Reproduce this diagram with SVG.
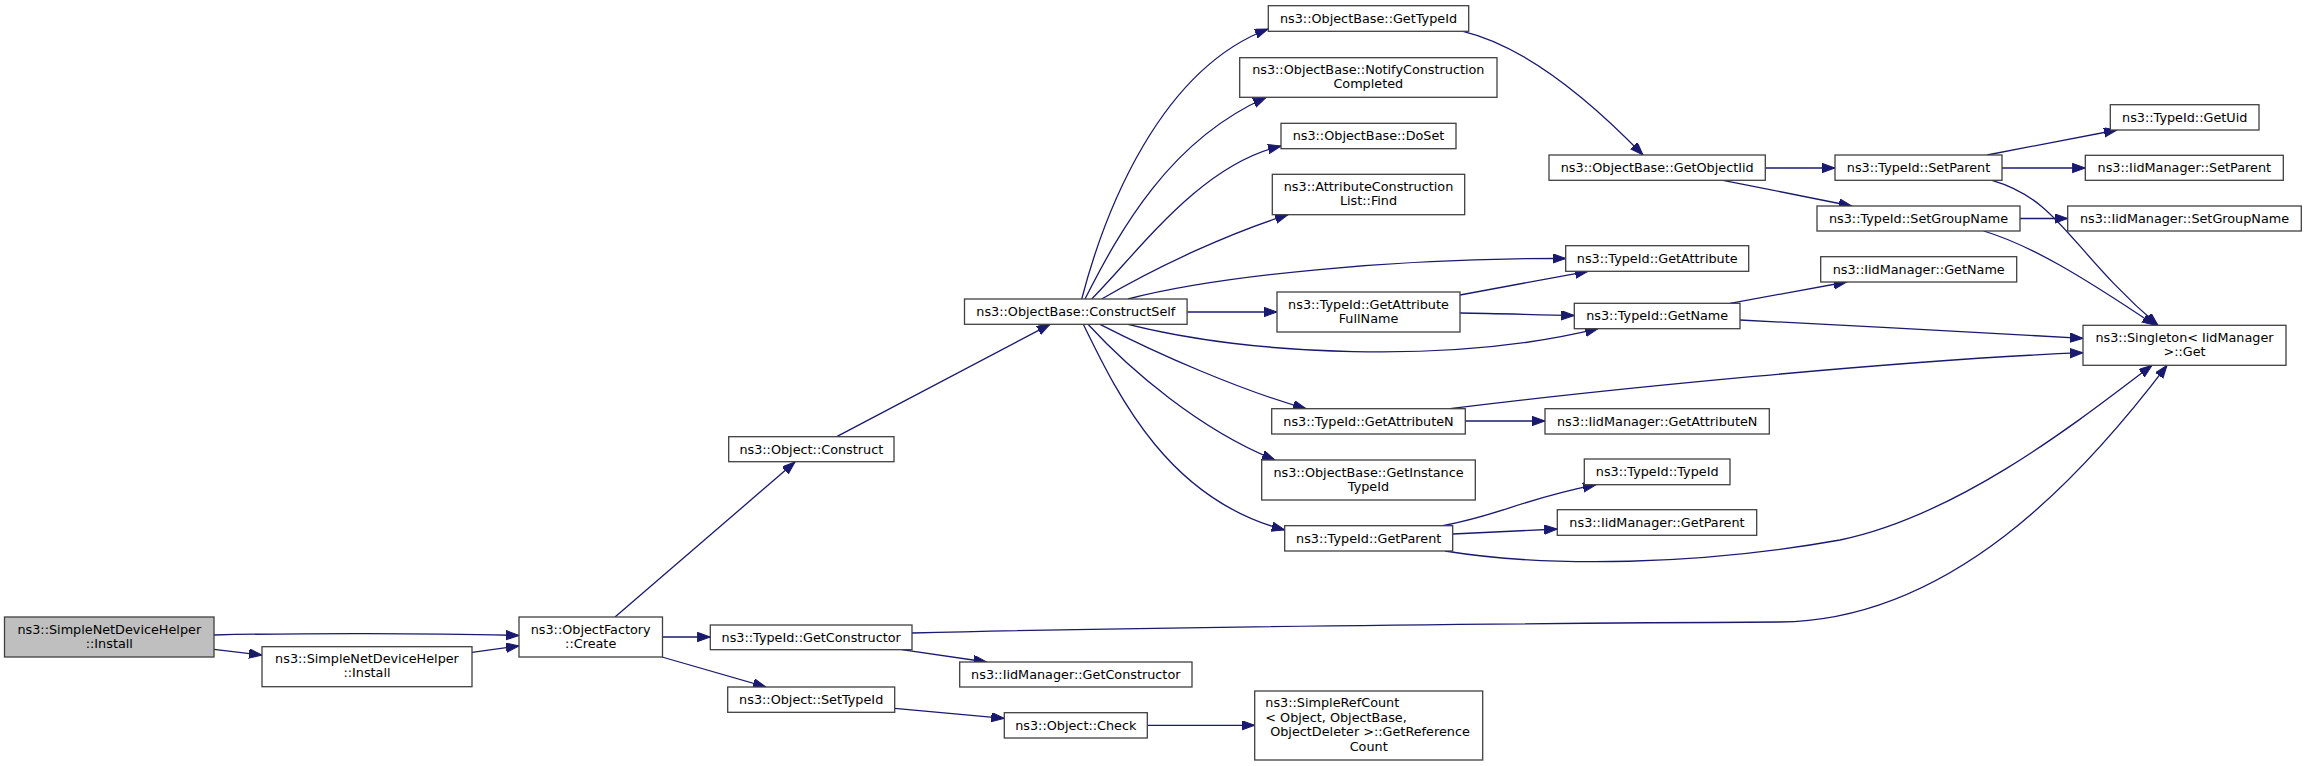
<svg xmlns="http://www.w3.org/2000/svg" width="2307" height="766" viewBox="0 0 2307 766">
<style>
.n rect{fill:#ffffff;stroke:#404040;stroke-width:1.3}
.n.g rect{fill:#bfbfbf}
.n text{font-family:"DejaVu Sans","Liberation Sans",sans-serif;font-size:12.8px;text-anchor:middle;fill:#000000}
.n text.l{text-anchor:start}
.e path{fill:none;stroke:#191970;stroke-width:1.3;marker-end:url(#a)}
</style>
<defs>
<marker id="a" markerUnits="userSpaceOnUse" markerWidth="15" markerHeight="12" refX="13" refY="4.7" orient="auto">
<path d="M0,0L13,4.7L0,9.4z" fill="#191970" stroke="#191970" stroke-width="1"/>
</marker>
</defs>
<rect width="2307" height="766" fill="#ffffff"/>
<g id="edges" class="e">
<path d="M214,635 C300,633 430,633 519,635.5"/>
<path d="M214,649.3 L262,655"/>
<path d="M472,652.3 L519,646"/>
<path d="M615,617 L795,462"/>
<path d="M662.5,637 L710.3,637"/>
<path d="M662,657 L766,687"/>
<path d="M836.7,436.7 L1050,324.3"/>
<path d="M1081.7,299 C1105,210 1160,70 1268,29"/>
<path d="M1085,299 C1120,230 1170,140 1266,97.5"/>
<path d="M1091.7,299 C1140,250 1200,165 1281,146"/>
<path d="M1101.7,299 C1160,265 1230,233 1288,214.7"/>
<path d="M1128,299 C1220,275 1400,258 1565.7,258.5"/>
<path d="M1187.1,312 L1277,312"/>
<path d="M1128,324.3 C1250,355 1450,365 1598,328.7"/>
<path d="M1100,324.3 C1160,355 1240,390 1306,408.7"/>
<path d="M1088,324.3 C1130,370 1200,430 1275,460"/>
<path d="M1083.3,324.3 C1120,400 1170,500 1284.7,530"/>
<path d="M1463,31.3 C1520,45 1580,90 1643,155"/>
<path d="M1765.3,168 L1835,168"/>
<path d="M1723,180.3 L1851.7,206"/>
<path d="M1987,155 L2117,130"/>
<path d="M2002,168 L2085.3,168"/>
<path d="M1992,180.3 C2060,200 2070,250 2158,325.3"/>
<path d="M2020,218.5 L2067.7,218.5"/>
<path d="M1983.7,231 C2030,245 2080,275 2155,325.3"/>
<path d="M1460,295 L1588,271.3"/>
<path d="M1460,313 C1500,313.5 1540,315 1574.3,315.5"/>
<path d="M1730,303.3 L1846.7,282"/>
<path d="M1740,320 C1850,325 1980,333 2083,338.3"/>
<path d="M1465.3,421 L1545,421"/>
<path d="M1450,408.7 C1600,390 1900,360 2083,352.7"/>
<path d="M1442.7,525.7 C1500,515 1520,500 1596,484.7"/>
<path d="M1452.7,534 L1557.3,529"/>
<path d="M1445,551 C1550,568 1700,565 1840,540 C1960,515 2080,420 2152,365.3"/>
<path d="M901.7,649.7 L986.7,662"/>
<path d="M912,633 C1200,626 1600,623 1780,622 C1950,620 2080,480 2167,365.3"/>
<path d="M894.7,708.3 L1004.3,718.3"/>
<path d="M1147.3,725.3 L1254.7,725.3"/>
</g>
<g id="n_gray_install" class="n g"><rect x="4.5" y="617" width="209.5" height="40"/><text x="109.3" y="633.6">ns3::SimpleNetDeviceHelper</text><text x="109.3" y="647.6">::Install</text></g>
<g id="n_install" class="n"><rect x="262" y="646.7" width="210" height="40"/><text x="367" y="663.3">ns3::SimpleNetDeviceHelper</text><text x="367" y="677.3">::Install</text></g>
<g id="n_create" class="n"><rect x="519" y="617" width="143.5" height="40"/><text x="590.7" y="633.6">ns3::ObjectFactory</text><text x="590.7" y="647.6">::Create</text></g>
<g id="n_construct" class="n"><rect x="728.7" y="436.7" width="165.3" height="25"/><text x="811.3" y="453.5">ns3::Object::Construct</text></g>
<g id="n_getconstructor" class="n"><rect x="710.3" y="625" width="201.7" height="24.7"/><text x="811.2" y="641.6">ns3::TypeId::GetConstructor</text></g>
<g id="n_settypeid" class="n"><rect x="727.7" y="687" width="167" height="25.3"/><text x="811.2" y="704">ns3::Object::SetTypeId</text></g>
<g id="n_constructself" class="n"><rect x="964.5" y="299" width="222.6" height="25.3"/><text x="1075.8" y="316">ns3::ObjectBase::ConstructSelf</text></g>
<g id="n_iid_getconstructor" class="n"><rect x="959.7" y="662" width="232.3" height="25"/><text x="1075.8" y="678.8">ns3::IidManager::GetConstructor</text></g>
<g id="n_check" class="n"><rect x="1004.3" y="712.7" width="143" height="25.3"/><text x="1075.8" y="729.6">ns3::Object::Check</text></g>
<g id="n_gettypeid" class="n"><rect x="1268.3" y="5.7" width="200.4" height="25.6"/><text x="1368.5" y="22.8">ns3::ObjectBase::GetTypeId</text></g>
<g id="n_notify" class="n"><rect x="1239.7" y="57.7" width="257.3" height="39.6"/><text x="1368.3" y="74.1">ns3::ObjectBase::NotifyConstruction</text><text x="1368.3" y="88.1">Completed</text></g>
<g id="n_doset" class="n"><rect x="1281" y="123.3" width="175" height="25.4"/><text x="1368.5" y="140.3">ns3::ObjectBase::DoSet</text></g>
<g id="n_attrfind" class="n"><rect x="1272.3" y="174.3" width="192.4" height="40.4"/><text x="1368.5" y="191.1">ns3::AttributeConstruction</text><text x="1368.5" y="205.1">List::Find</text></g>
<g id="n_getattrfullname" class="n"><rect x="1277" y="292" width="183" height="40"/><text x="1368.5" y="308.6">ns3::TypeId::GetAttribute</text><text x="1368.5" y="322.6">FullName</text></g>
<g id="n_getattrn" class="n"><rect x="1271.7" y="408.7" width="193.6" height="25.3"/><text x="1368.5" y="425.6">ns3::TypeId::GetAttributeN</text></g>
<g id="n_getinstancetypeid" class="n"><rect x="1261.7" y="460" width="213.6" height="40"/><text x="1368.5" y="476.6">ns3::ObjectBase::GetInstance</text><text x="1368.5" y="490.6">TypeId</text></g>
<g id="n_getparent" class="n"><rect x="1284.7" y="525.7" width="168" height="25.3"/><text x="1368.7" y="542.6">ns3::TypeId::GetParent</text></g>
<g id="n_simplerefcount" class="n"><rect x="1254.7" y="691" width="228" height="69"/><text class="l" x="1265.3" y="707.4">ns3::SimpleRefCount</text><text class="l" x="1265.3" y="721.8">&lt; Object, ObjectBase,</text><text x="1370" y="736.2">ObjectDeleter &gt;::GetReference</text><text x="1368.7" y="750.6">Count</text></g>
<g id="n_getobjectiid" class="n"><rect x="1549" y="155" width="216.3" height="25.3"/><text x="1657.2" y="172">ns3::ObjectBase::GetObjectIid</text></g>
<g id="n_getattribute" class="n"><rect x="1565.7" y="245.7" width="183" height="25.6"/><text x="1657.2" y="262.8">ns3::TypeId::GetAttribute</text></g>
<g id="n_getname" class="n"><rect x="1574.3" y="303.3" width="165.7" height="25.4"/><text x="1657.2" y="320.3">ns3::TypeId::GetName</text></g>
<g id="n_iid_getattrn" class="n"><rect x="1545" y="408.7" width="224.3" height="25.3"/><text x="1657.2" y="425.6">ns3::IidManager::GetAttributeN</text></g>
<g id="n_typeid" class="n"><rect x="1584.3" y="459" width="145.7" height="25.7"/><text x="1657.2" y="476.1">ns3::TypeId::TypeId</text></g>
<g id="n_iid_getparent" class="n"><rect x="1557.3" y="509.7" width="199.4" height="25.6"/><text x="1657" y="526.8">ns3::IidManager::GetParent</text></g>
<g id="n_setparent" class="n"><rect x="1835" y="155" width="167" height="25.3"/><text x="1918.5" y="172">ns3::TypeId::SetParent</text></g>
<g id="n_setgroupname" class="n"><rect x="1817" y="206" width="203" height="25"/><text x="1918.5" y="222.8">ns3::TypeId::SetGroupName</text></g>
<g id="n_iid_getname" class="n"><rect x="1820.7" y="256.7" width="196" height="25.3"/><text x="1918.7" y="273.6">ns3::IidManager::GetName</text></g>
<g id="n_getuid" class="n"><rect x="2110.3" y="104.7" width="148.7" height="25.3"/><text x="2184.7" y="121.6">ns3::TypeId::GetUid</text></g>
<g id="n_iid_setparent" class="n"><rect x="2085.3" y="155.3" width="198" height="25"/><text x="2184.3" y="172.1">ns3::IidManager::SetParent</text></g>
<g id="n_iid_setgroupname" class="n"><rect x="2067.7" y="206" width="233.6" height="25"/><text x="2184.5" y="222.8">ns3::IidManager::SetGroupName</text></g>
<g id="n_singleton_get" class="n"><rect x="2083" y="325.3" width="203" height="40"/><text x="2184.5" y="341.9">ns3::Singleton&lt; IidManager</text><text x="2184.5" y="355.9">&gt;::Get</text></g>
</svg>
